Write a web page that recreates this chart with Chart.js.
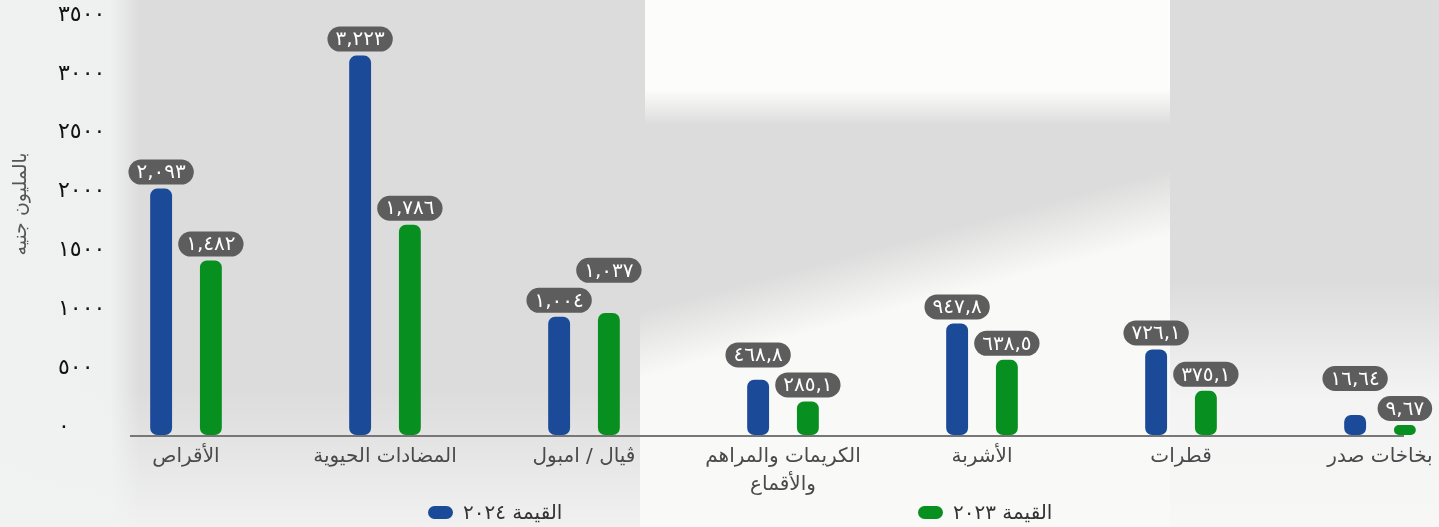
<!DOCTYPE html>
<html lang="ar">
<head>
<meta charset="utf-8">
<script src="https://cdn.jsdelivr.net/npm/chart.js@4"></script>
<style>
  body { margin: 0; }
  #wrap {
    position: relative;
    width: 1439px;
    height: 527px;
    overflow: hidden;
    font-family: "DejaVu Sans", sans-serif;
    background:
      linear-gradient(90deg, rgba(241,243,243,0.95) 0, rgba(241,243,243,0.9) 110px, rgba(241,243,243,0) 140px) 0 0 / 140px 527px no-repeat,
      linear-gradient(180deg, rgba(252,252,251,1) 0, rgba(252,252,251,1) 90px, rgba(252,252,251,0) 125px) 645px 0 / 525px 130px no-repeat,
      linear-gradient(165deg, rgba(249,249,247,0) 0, rgba(249,249,247,0) 36%, rgba(249,249,247,1) 48%, rgba(249,249,247,1) 100%) 640px 110px / 530px 417px no-repeat,
      linear-gradient(180deg, rgba(245,246,245,0) 0, rgba(245,246,245,0) 25%, rgba(245,246,245,0.9) 60%, rgba(247,247,246,1) 100%) 1170px 200px / 269px 327px no-repeat,
      linear-gradient(180deg, rgba(238,239,238,0) 0, rgba(241,242,241,0.95) 100%) 0 390px / 640px 137px no-repeat,
      #dcdcdc;
  }
  #legend { position: absolute; left: 0; top: 500px; width: 100%; height: 26px; }
  .item { position: absolute; display: flex; align-items: center; font-size: 20px; color: #333; }
  .swatch { width: 25px; height: 13px; border-radius: 7px; margin-right: 10px; }
</style>
</head>
<body>
<div id="wrap">
  <canvas id="grafica"></canvas>
  <div id="legend"></div>
</div>
<script>
const categorias = [
  "الأقراص",
  "المضادات الحيوية",
  "ڤيال / امبول",
  ["الكريمات والمراهم", "والأقماع"],
  "الأشربة",
  "قطرات",
  "بخاخات صدر",
];
const valores2024 = [2093, 3223, 1004, 468.8, 947.8, 726.1, 16.64];
const valores2023 = [1482, 1786, 1037, 285.1, 638.5, 375.1, 9.67];
const ticksY = [0, 500, 1000, 1500, 2000, 2500, 3000, 3500];
const series = ["القيمة ٢٠٢٤", "القيمة ٢٠٢٣"];
const colores = ["#1b4a98", "#07901f"];

const arDigits = "٠١٢٣٤٥٦٧٨٩";
const toAr = (s) => String(s).replace(/[0-9]/g, (d) => arDigits[d]);
const fmtValue = (v) =>
  toAr(v.toLocaleString("en-US", { maximumFractionDigits: 2 }).replace(".", ","));

// etiquetas tipo pastilla encima de cada barra
// si se pisan dentro del grupo, la de la barra mas alta sube
const pillLabels = {
  id: "pillLabels",
  afterDatasetsDraw(chart) {
    const ctx = chart.ctx;
    const h = 25;
    ctx.save();
    ctx.font = "20px 'DejaVu Sans'";
    ctx.textAlign = "center";
    ctx.textBaseline = "middle";
    const metas = chart.data.datasets.map((ds, i) => chart.getDatasetMeta(i));
    chart.data.labels.forEach((_, j) => {
      const pills = chart.data.datasets.map((ds, i) => {
        const bar = metas[i].data[j];
        const txt = fmtValue(ds.data[j]);
        const w = ctx.measureText(txt).width + 16;
        return { txt, x: bar.x, w, bottom: bar.y - 4 };
      });
      const [a, b] = pills;
      const overlapX = Math.abs(a.x - b.x) < (a.w + b.w) / 2;
      const overlapY = Math.abs(a.bottom - b.bottom) < h + 4;
      if (overlapX && overlapY) {
        const [hi, lo] = a.bottom <= b.bottom ? [a, b] : [b, a];
        hi.bottom = lo.bottom - h - 5;
      }
      pills.forEach((p) => {
        const cy = p.bottom - h / 2;
        ctx.fillStyle = "#5d5d5d";
        ctx.beginPath();
        ctx.roundRect(p.x - p.w / 2, cy - h / 2, p.w, h, h / 2);
        ctx.fill();
        ctx.fillStyle = "#ffffff";
        ctx.fillText(p.txt, p.x, cy + 1);
      });
    });
    ctx.restore();
  },
};

// linea base y titulo del eje y
const extras = {
  id: "extras",
  afterDatasetsDraw(chart) {
    const { ctx, chartArea } = chart;
    ctx.save();
    ctx.strokeStyle = "#777777";
    ctx.lineWidth = 2;
    ctx.beginPath();
    ctx.moveTo(chartArea.left - 56, chartArea.bottom + 1);
    ctx.lineTo(chartArea.right + 24, chartArea.bottom + 1);
    ctx.stroke();

    ctx.translate(21, 204);
    ctx.rotate(-Math.PI / 2);
    ctx.font = "19px 'DejaVu Sans'";
    ctx.fillStyle = "#555555";
    ctx.textAlign = "center";
    ctx.textBaseline = "middle";
    ctx.fillText("بالمليون جنيه", 0, 0);
    ctx.restore();
  },
};

const data = {
  labels: categorias,
  datasets: [
    { label: series[0], data: valores2024, backgroundColor: colores[0], minBarLength: 20 },
    { label: series[1], data: valores2023, backgroundColor: colores[1], minBarLength: 10 },
  ].map((d) => ({
    ...d,
    borderRadius: 7,
    borderSkipped: false,
    categoryPercentage: 0.5,
    barPercentage: 0.44,
    clip: false,
  })),
};

const options = {
  responsive: true,
  maintainAspectRatio: false,
  animation: false,
  layout: { padding: { left: 58, right: 59, top: 23, bottom: 28 } },
  plugins: { legend: { display: false }, tooltip: { enabled: false } },
  scales: {
    x: {
      offset: false,
      grid: { display: false },
      border: { display: false },
      afterFit: (scale) => {
        scale.paddingLeft = 0;
        scale.paddingRight = 0;
      },
      ticks: {
        color: "#4a4a4a",
        font: { family: "DejaVu Sans", size: 20, lineHeight: 1.4 },
        padding: 0,
        maxRotation: 0,
        autoSkip: false,
      },
    },
    y: {
      min: ticksY[0],
      max: ticksY[ticksY.length - 1],
      afterBuildTicks: (scale) => {
        scale.ticks = ticksY.map((v) => ({ value: v }));
      },
      afterFit: (scale) => {
        scale.width = 128;
      },
      grid: { display: false },
      border: { display: false },
      ticks: {
        crossAlign: "far",
        labelOffset: -8,
        color: "#111111",
        font: { family: "DejaVu Sans", size: 22 },
        callback: (v) => toAr(v),
      },
    },
  },
};

new Chart("grafica", { type: "bar", data, options, plugins: [pillLabels, extras] });

// leyenda html
const legend = document.getElementById("legend");
const legendLeft = [428, 918];
series.forEach((s, i) => {
  const item = document.createElement("div");
  item.className = "item";
  item.style.left = legendLeft[i] + "px";
  item.innerHTML = `<span class="swatch" style="background:${colores[i]}"></span><span dir="rtl">${s}</span>`;
  legend.appendChild(item);
});
</script>
</body>
</html>
